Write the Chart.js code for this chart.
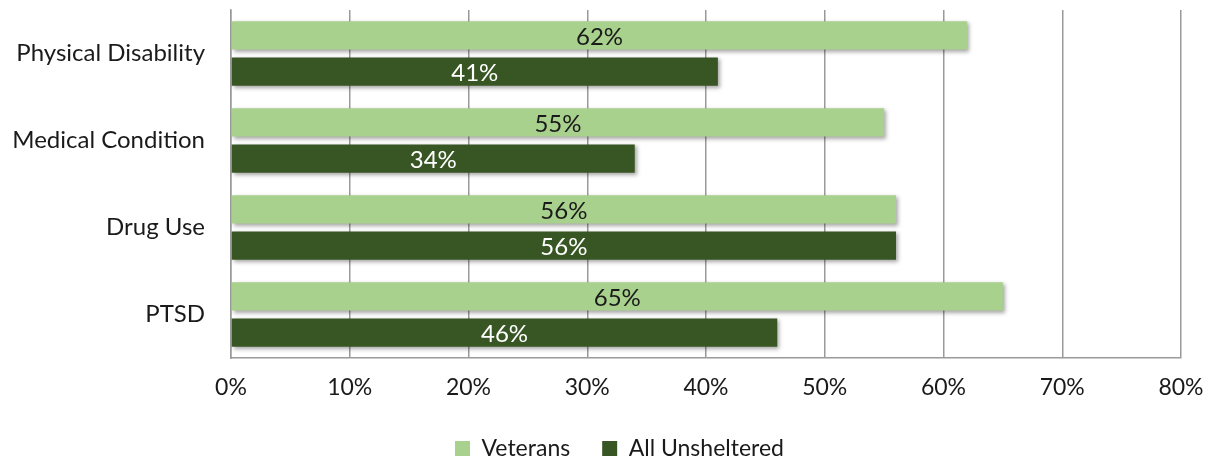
<!DOCTYPE html>
<html>
<head>
<meta charset="utf-8">
<script src="https://cdn.jsdelivr.net/npm/chart.js@4.4.0/dist/chart.umd.min.js"></script>
<style>
html,body{margin:0;padding:0;background:#fff;}
#wrap{width:1211px;height:462px;position:relative;}
</style>
</head>
<body>
<div id="wrap"><canvas id="c" width="1211" height="462"></canvas></div>
<script>
const categories = ["Physical Disability", "Medical Condition", "Drug Use", "PTSD"];
const veterans = [62, 55, 56, 65];
const allUnsheltered = [41, 34, 56, 46];
const seriesNames = ["Veterans", "All Unsheltered"];
const xTicks = [0, 10, 20, 30, 40, 50, 60, 70, 80];

const FONT = "Lato, 'Open Sans', sans-serif";

const barLabels = {
  id: 'barLabels',
  afterDatasetsDraw(chart) {
    const ctx = chart.ctx;
    ctx.save();
    ctx.font = "24px " + FONT;
    ctx.textAlign = 'center';
    ctx.textBaseline = 'middle';
    chart.data.datasets.forEach((ds, i) => {
      const meta = chart.getDatasetMeta(i);
      meta.data.forEach((bar, j) => {
        const cx = (bar.x + bar.base) / 2;
        ctx.fillStyle = i === 0 ? '#1a1a1a' : '#ffffff';
        ctx.fillText(ds.data[j] + '%', cx, bar.y + 2);
      });
    });
    ctx.restore();
  }
};

const barShadow = {
  id: 'barShadow',
  beforeDatasetsDraw(chart) {
    const ctx = chart.ctx;
    ctx.save();
    ctx.shadowColor = 'rgba(0,0,0,0.35)';
    ctx.shadowBlur = 4;
    ctx.shadowOffsetX = 2;
    ctx.shadowOffsetY = 2;
  },
  afterDatasetsDraw(chart) {
    chart.ctx.restore();
  }
};

const legendShift = {
  id: 'legendShift',
  afterLayout(chart) {
    const lg = chart.legend;
    if (lg) { lg.left += 29; lg.right += 29; }
  }
};

new Chart(document.getElementById('c'), {
  type: 'bar',
  data: {
    labels: categories,
    datasets: [
      { label: seriesNames[0], data: veterans, backgroundColor: '#a9d18e', categoryPercentage: 0.83, barPercentage: 0.78 },
      { label: seriesNames[1], data: allUnsheltered, backgroundColor: '#375623', categoryPercentage: 0.83, barPercentage: 0.78 }
    ]
  },
  options: {
    indexAxis: 'y',
    responsive: false,
    animation: false,
    layout: { padding: { left: 0, right: 30, top: 10, bottom: -8 } },
    plugins: {
      legend: {
        position: 'bottom',
        labels: {
          font: { family: FONT, size: 23 },
          color: '#1a1a1a',
          boxWidth: 15,
          boxHeight: 15,
          padding: 32
        }
      },
      tooltip: { enabled: false }
    },
    scales: {
      x: {
        min: 0,
        max: 80,
        afterBuildTicks(scale) { scale.ticks = xTicks.map(v => ({ value: v })); },
        afterFit(scale) { scale.height = 47; scale.paddingLeft = 0; scale.paddingRight = 0; },
        ticks: {
          callback: v => v + '%',
          font: { family: FONT, size: 23 },
          color: '#1a1a1a',
          padding: 16
        },
        grid: { color: '#9a9a9a', lineWidth: 1.5, drawTicks: false },
        border: { color: '#9a9a9a', width: 1.5 }
      },
      y: {
        afterFit(scale) { scale.width = 231; scale.paddingTop = 0; scale.paddingBottom = 0; },
        ticks: {
          font: { family: FONT, size: 24 },
          color: '#1a1a1a',
          padding: 26
        },
        grid: { display: false, drawTicks: false },
        border: { color: '#9a9a9a', width: 1.5 }
      }
    }
  },
  plugins: [barShadow, barLabels, legendShift]
});
</script>
</body>
</html>
